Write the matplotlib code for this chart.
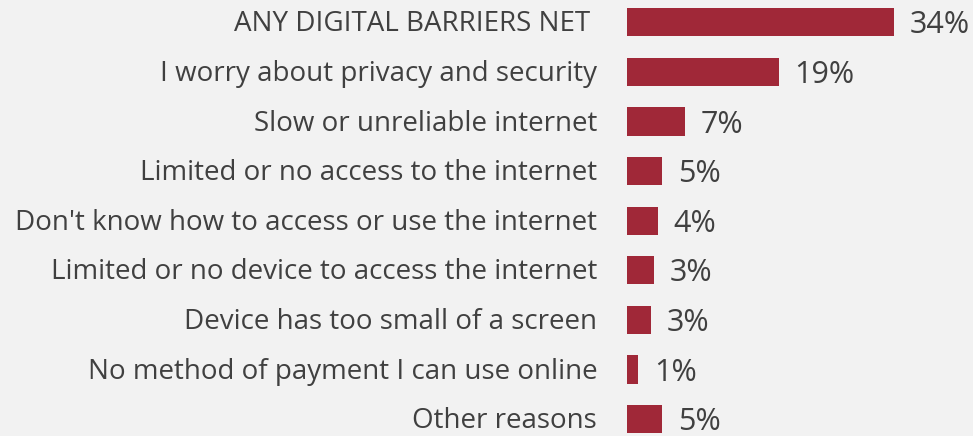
import matplotlib.pyplot as plt

# Dados
categorias = [
    "ANY DIGITAL BARRIERS NET ",
    "I worry about privacy and security",
    "Slow or unreliable internet",
    "Limited or no access to the internet",
    "Don't know how to access or use the internet",
    "Limited or no device to access the internet",
    "Device has too small of a screen",
    "No method of payment I can use online",
    "Other reasons",
]
valores = [34.0, 19.3, 7.4, 4.5, 3.9, 3.4, 3.1, 1.4, 4.5]
rotulos = ["34%", "19%", "7%", "5%", "4%", "3%", "3%", "1%", "5%"]

cor_barra = "#a02838"
cor_texto = "#404040"
fundo = "#f2f2f2"

plt.rcParams["font.family"] = ["Open Sans", "DejaVu Sans"]

fig = plt.figure(figsize=(9.73, 4.36), dpi=100, facecolor=fundo)
ax = fig.add_axes([627 / 973, 0, 346 / 973, 1])
ax.set_facecolor(fundo)

y = list(range(len(categorias)))
ax.barh(y, valores, height=0.57, color=cor_barra)

ax.set_xlim(0, 346 / 7.85)
ax.set_ylim(8.34, -0.45)

# Rótulos de valor
for i, (v, r) in enumerate(zip(valores, rotulos)):
    ax.text(v + 2.0, i + 0.06, r, va="center", ha="left", fontsize=22, color=cor_texto)

# Rótulos das categorias
for i, c in enumerate(categorias):
    ax.text(-3.8, i + 0.04, c, va="center", ha="right", fontsize=20, color=cor_texto,
            clip_on=False)

ax.set_xticks([])
ax.set_yticks([])
for s in ax.spines.values():
    s.set_visible(False)

fig.savefig("out.png", dpi=100, facecolor=fundo)
